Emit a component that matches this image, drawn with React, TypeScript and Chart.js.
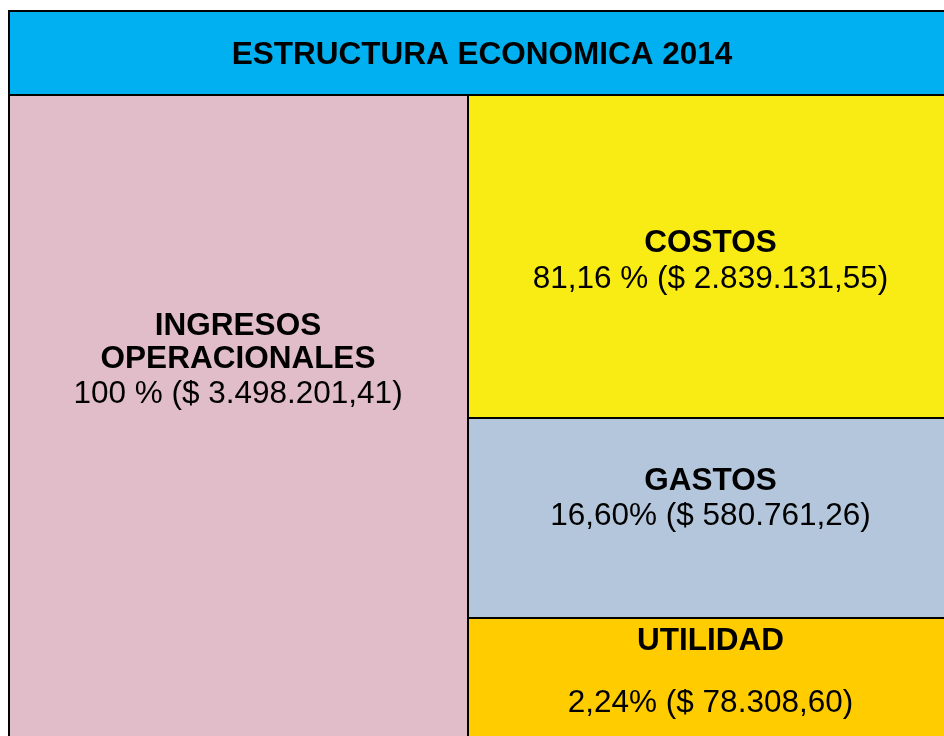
import React, { useEffect, useRef } from "react";
import { Chart, registerables } from "chart.js";

Chart.register(...registerables);

// ---- data ----
const chartTitle = "ESTRUCTURA ECONOMICA 2014";
const columns = ["Ingresos", "Egresos"];
const blockNames = ["INGRESOS OPERACIONALES", "UTILIDAD", "GASTOS", "COSTOS"];
const blockTitleLines = [["INGRESOS", "OPERACIONALES"], ["UTILIDAD"], ["GASTOS"], ["COSTOS"]];
const percentLabels = ["100 %", "2,24%", "16,60%", "81,16 %"];
const amountLabels = ["$ 3.498.201,41", "$ 78.308,60", "$ 580.761,26", "$ 2.839.131,55"];
// visible block heights as drawn in the picture (% of the frame height)
const blockHeights = [100, 18.89, 30.96, 50.15];
const blockColumn = [0, 1, 1, 1];
const blockColors = ["#E1BDC9", "#FFCC00", "#B3C6DB", "#F9EB14"];

// ---- styling / layout ----
const FONT = "'Liberation Sans', Arial, Helvetica, sans-serif";
const FONT_SIZE = 31.5;
const HEADER_COLOR = "#00B0F0";
const CANVAS_W = 960;
const CANVAS_H = 745;
// baseline offsets of each text line measured from the block top
const lineOffsets = [
  [241, 274, 309],
  [32, 94],
  [72, 107],
  [158, 194],
];
const barWidths = [460, 485, 485, 485];
const borderWidths = [
  { top: 2, left: 2, right: 1, bottom: 0 },
  { top: 1, left: 1, right: 0, bottom: 0 },
  { top: 1, left: 1, right: 0, bottom: 1 },
  { top: 2, left: 1, right: 0, bottom: 1 },
];

const headerPlugin = {
  id: "headerBox",
  beforeDraw(chart: any) {
    const ctx = chart.ctx;
    ctx.save();
    ctx.fillStyle = HEADER_COLOR;
    ctx.fillRect(8, 10, CANVAS_W - 8, 86);
    ctx.fillStyle = "#000";
    ctx.fillRect(8, 10, CANVAS_W - 8, 2);
    ctx.fillRect(8, 10, 2, 86);
    ctx.font = `bold ${FONT_SIZE}px ${FONT}`;
    ctx.textAlign = "center";
    ctx.textBaseline = "alphabetic";
    ctx.fillText(chartTitle, 482, 63.5);
    ctx.restore();
  },
};

const labelPlugin = {
  id: "blockLabels",
  afterDatasetsDraw(chart: any) {
    const ctx = chart.ctx;
    ctx.save();
    ctx.fillStyle = "#000";
    ctx.textAlign = "center";
    ctx.textBaseline = "alphabetic";
    blockNames.forEach((_, i) => {
      const meta = chart.getDatasetMeta(i);
      const el = meta.data[blockColumn[i]];
      if (!el) return;
      const { x, y } = el.getProps(["x", "y"], true);
      const top = Math.round(y);
      const lines = [
        ...blockTitleLines[i].map((t) => ({ t, bold: true })),
        { t: `${percentLabels[i]} (${amountLabels[i]})`, bold: false },
      ];
      lines.forEach((ln, j) => {
        ctx.font = `${ln.bold ? "bold " : ""}${FONT_SIZE}px ${FONT}`;
        ctx.fillText(ln.t, x, top + lineOffsets[i][j]);
      });
    });
    ctx.restore();
  },
};

export default function App() {
  const ref = useRef<HTMLCanvasElement | null>(null);
  useEffect(() => {
    if (!ref.current) return;
    const datasets = blockNames.map((name, i) => ({
      label: name,
      data: columns.map((_, c) => (c === blockColumn[i] ? blockHeights[i] : null)),
      backgroundColor: blockColors[i],
      borderColor: "#000",
      borderWidth: borderWidths[i],
      borderSkipped: false,
      barThickness: barWidths[i],
      inflateAmount: 0,
    }));
    const chart = new Chart(ref.current, {
      type: "bar",
      data: { labels: columns, datasets: datasets as any },
      options: {
        responsive: false,
        animation: false,
        devicePixelRatio: 1,
        layout: { padding: { left: 1.75, right: CANVAS_W - 946.75, top: 94, bottom: CANVAS_H - 740 } },
        plugins: { legend: { display: false }, title: { display: false }, tooltip: { enabled: false } },
        scales: {
          x: { display: false, stacked: true, grid: { display: false } },
          y: { display: false, stacked: true, min: 0, max: 100, grid: { display: false } },
        },
      },
      plugins: [headerPlugin, labelPlugin],
    });
    return () => chart.destroy();
  }, []);
  return (
    <div style={{ position: "fixed", left: 0, top: 0, width: 944, height: 736, overflow: "hidden", background: "#fff" }}>
      <canvas ref={ref} width={CANVAS_W} height={CANVAS_H} style={{ display: "block" }} />
    </div>
  );
}
